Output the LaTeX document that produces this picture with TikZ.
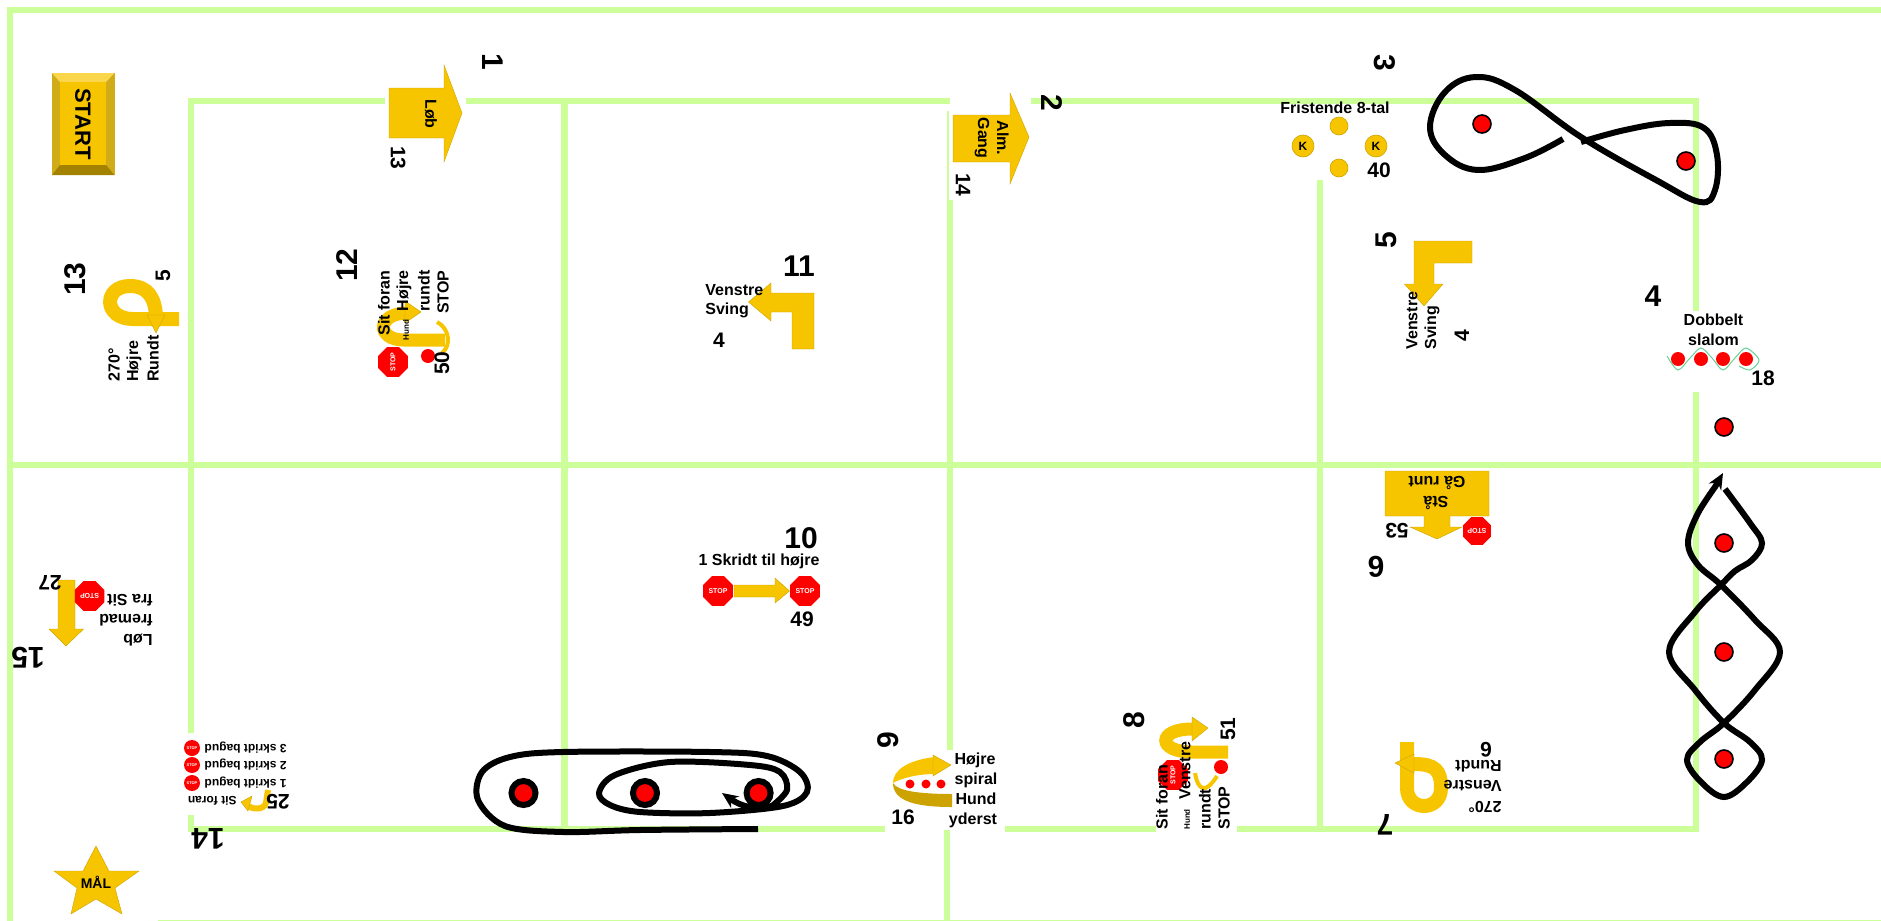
\documentclass[tikz,border=0pt]{standalone}
\usepackage{fontspec}
\setmainfont{Liberation Sans}
\usetikzlibrary{arrows.meta,shapes.geometric}
\definecolor{baneGreen}{HTML}{CCFF99}
\definecolor{gul}{HTML}{F6C500}
\definecolor{mørkgul}{HTML}{CCA300}
\begin{document}
\begin{tikzpicture}[
    x=0.5pt, y=-0.5pt,
    font=\bfseries\fontsize{8}{8}\selectfont,
    >=Stealth,
    bane/.style={draw=baneGreen, line width=3.2pt},
    gulpil/.style={fill=gul, draw=mørkgul, line width=.2pt},
    gulbaand/.style={draw=gul, line width=6.5pt},
    spor/.style={draw=black, line width=3pt, line cap=butt},
    nr/.style={inner sep=0pt, font=\bfseries\fontsize{15}{15}\selectfont},
    pt/.style={inner sep=0pt, font=\bfseries\fontsize{10.5}{10.5}\selectfont},
    txt/.style={inner sep=0pt},
    lille/.style={inner sep=0pt, font=\bfseries\fontsize{6}{6}\selectfont},
    kegle/.style={circle, fill=red, draw=black, line width=.8pt, minimum size=9pt, inner sep=0pt},
    ring/.style={circle, fill=red, draw=black, line width=3pt, minimum size=12pt, inner sep=0pt},
    rod/.style={circle, fill=red, minimum size=7pt, inner sep=0pt},
    stopskilt/.style={regular polygon, regular polygon sides=8, fill=red, minimum size=16pt, inner sep=0pt, text=white, font=\bfseries\fontsize{3.5}{3.5}\selectfont},
    kugle/.style={circle, fill=gul, draw=mørkgul, line width=.3pt, inner sep=0pt, minimum size=9pt, font=\bfseries\fontsize{6}{6}\selectfont}
]
\useasboundingbox (0,0) rectangle (1881,921);
% banen
\draw[bane] (1881,10) -- (10,10) -- (10,921);
\draw[bane] (10,465) -- (1881,465);
\draw[bane] (191,733) -- (191,101) -- (385,101);
\draw[bane] (466,101) -- (950,101);
\draw[bane] (1031,101) -- (1696,101) -- (1696,311);
\draw[bane] (564.5,101) -- (564.5,829);
\draw[bane] (950,200) -- (950,750);
\draw[baneGreen, line width=1pt] (948,111) -- (948,200);
\draw[bane] (947,830) -- (947,921);
\draw[bane] (1320,180) -- (1320,829);
\draw[bane] (1696,392) -- (1696,829) -- (1237,829);
\draw[bane] (1156,829) -- (1005,829);
\draw[bane] (885,829) -- (191,829) -- (191,815);
\draw[baneGreen, line width=1pt] (158,920.5) -- (1881,920.5);

% start
\fill[mørkgul!90!white] (52,73) rectangle (114.5,175);
\fill[gul!70!white] (52,73) -- (114.5,73) -- (106,82) -- (60,82) -- cycle;
\fill[mørkgul!80!black] (52,175) -- (114.5,175) -- (106,165) -- (60,165) -- cycle;
\fill[gul] (60,82) rectangle (106,165);
\node[txt, rotate=-90, font=\bfseries\fontsize{11}{11}\selectfont] (start) at (83,124) {START};

% 1 - 2
\fill[gulpil] (389,88) -- (444,88) -- (444,65) -- (462,113) -- (444,162) -- (444,138) -- (389,138) -- cycle;
\node[txt, rotate=-90] (loeb) at (431,114) {Løb};
\node[pt, rotate=-90] (p1) at (398,158) {13};
\node[nr, rotate=-90] (n1) at (493,62) {1};
\fill[gulpil] (953,115) -- (1010,115) -- (1010,93) -- (1029,137) -- (1010,184) -- (1010,162) -- (953,162) -- cycle;
\node[txt, rotate=-90] (alm) at (1003,138) {Alm.};
\node[txt, rotate=-90] (gang) at (982,138) {Gang};
\node[pt, rotate=-90] (p2) at (963,185) {14};
\node[nr, rotate=-90] (n2) at (1052,103) {2};

% 3
\node[txt] (frit) at (1335,108) {Fristende 8-tal};
\node[kugle] (k1) at (1339,126) {};
\node[kugle] (k2) at (1339,168) {};
\node[kugle, minimum size=11pt] (k3) at (1303,146) {K};
\node[kugle, minimum size=11pt] (k4) at (1376,146) {K};
\node[pt] (p3) at (1379,170) {40};
\node[nr, rotate=-90] (n3) at (1385,63) {3};
\draw[spor] plot[smooth, tension=.65] coordinates {(1563,139) (1525,158) (1478,170) (1445,155) (1430,127) (1445,92) (1476,77) (1515,90) (1581,137) (1656,180) (1700,202) (1715,190) (1717,155) (1704,128) (1670,123) (1625,130) (1581,142)};
\node[kegle] (a1) at (1482,124) {};
\node[kegle] (a2) at (1686,161) {};

% 4
\node[nr] (n4) at (1653,296) {4};
\node[txt] (dob) at (1713.5,320) {Dobbelt};
\node[txt] (sla) at (1713.5,340) {slalom};
\draw[teal!60!green!60, line width=.5pt] plot[smooth] coordinates {(1667,356) (1678,370) (1690,358) (1701,348) (1712,358) (1723,370) (1735,358) (1746,348) (1759,360) (1750,370) (1739,366)};
\foreach \px/\pname in {1678/b1,1701/b2,1723/b3,1746/b4} \node[rod] (\pname) at (\px,359) {};
\node[pt] (p4) at (1763,378) {18};
\node[kegle] (a3) at (1724,427) {};

% slalom
\draw[spor, -{Stealth[length=8pt,width=7pt]}] plot[smooth, tension=.6] coordinates {(1725,489) (1750,523) (1762,543) (1752,560) (1735,571) (1721,585) (1695,612) (1669,652) (1695,690) (1724,723) (1750,742) (1762,760) (1747,782) (1724,797) (1701,782) (1687,760) (1700,742) (1724,723) (1755,690) (1780,652) (1755,620) (1721,585) (1698,565) (1688,543) (1697,515) (1715,487)} -- (1723,473);
\node[kegle] (a4) at (1724,543) {};
\node[kegle] (a5) at (1724,652) {};
\node[kegle] (a6) at (1724,759) {};

% 5
\fill[gulpil] (1472,241) -- (1472,263) -- (1434,263) -- (1434,284) -- (1443,284) -- (1424,306) -- (1404.5,284) -- (1414,284) -- (1414,241) -- cycle;
\node[txt, rotate=90, anchor=west] (ven1) at (1412,350) {Venstre};
\node[txt, rotate=90, anchor=west] (svi1) at (1432,350) {Sving};
\node[pt, rotate=90] (p5) at (1462,336) {4};
\node[nr, rotate=90] (n5) at (1386,240) {5};

% 6
\fill[gulpil] (1385,471) -- (1489,471) -- (1489,516) -- (1450,516) -- (1450,527) -- (1462,527) -- (1437,539) -- (1410,527) -- (1424,527) -- (1424,516) -- (1385,516) -- cycle;
\node[txt, rotate=180] (sta) at (1436,503) {Stå};
\node[txt, rotate=180] (gaa) at (1437,483) {Gå runt};
\node[stopskilt, minimum size=15pt, rotate=180] (s6) at (1477,531) {STOP};
\node[pt, rotate=180] (p6) at (1397,531) {53};
\node[nr, rotate=180] (n6) at (1376,567) {6};

% 7
\draw[gulbaand, line width=7pt] (1407,742) -- (1407,788) .. controls (1407,812) and (1441,812) .. (1441,788) .. controls (1441,770) and (1435,764) .. (1414,764);
\fill[gulpil] (1414,754) -- (1395,763) -- (1414,773) -- cycle;
\node[txt, rotate=180, anchor=west] (dg7) at (1502,807) {270°};
\node[txt, rotate=180, anchor=west] (ven7) at (1502,786) {Venstre};
\node[txt, rotate=180, anchor=west] (run7) at (1502,766) {Rundt};
\node[pt, rotate=180] (p7) at (1486,750) {6};
\node[nr, rotate=180] (n7) at (1385,825) {7};

% 8
\draw[gulbaand] (1228,752) -- (1192,752) .. controls (1157,752) and (1157,729) .. (1192,729);
\fill[gulpil] (1192,717) -- (1208,728) -- (1192,741) -- cycle;
\draw[gul, line width=2pt] (1195,773) .. controls (1198,790) and (1205,795) .. (1217,776);
\node[stopskilt, rotate=90] (s8) at (1173,775) {STOP};
\node[rod] (r8) at (1221,767) {};
\node[txt, rotate=90, anchor=west] (sit8) at (1162,830) {Sit foran};
\node[txt, rotate=90, anchor=west] (ven8) at (1185,800) {Venstre};
\node[lille, rotate=90, anchor=west, font=\bfseries\fontsize{4}{4}\selectfont] (hun8) at (1187,830) {Hund};
\node[txt, rotate=90, anchor=west] (run8) at (1205,830) {rundt};
\node[txt, rotate=90, anchor=west] (stp8) at (1224,830) {STOP};
\node[pt, rotate=90] (p8) at (1228,729) {51};
\node[nr, rotate=90] (n8) at (1134,720) {8};

% 9
\fill[gul] (935,757) .. controls (908,760) and (893,770) .. (893,783) .. controls (900,779) and (915,774) .. (935,774) -- cycle;
\fill[mørkgul] (893,783) .. controls (897,791) and (920,794) .. (952,794) -- (952,807) .. controls (918,807) and (893,802) .. (893,783) -- cycle;
\fill[gulpil] (933,755) -- (951,765) -- (933,776) -- cycle;
\foreach \px/\pname in {910/c1,926/c2,941/c3} \node[rod, minimum size=4.5pt] (\pname) at (\px,784) {};
\node[txt] (hoj9) at (975,760) {Højre};
\node[txt] (spi9) at (976,780) {spiral};
\node[txt] (hun9) at (976,799) {Hund};
\node[txt] (yde9) at (973,820) {yderst};
\node[pt] (p9) at (903,817) {16};
\node[nr, rotate=90] (n9) at (888,740) {9};

% 10
\fill[gulpil] (734,585) -- (775,585) -- (775,578) -- (789.5,591) -- (775,603) -- (775,597) -- (734,597) -- cycle;
\node[stopskilt] (s10a) at (718,591) {STOP};
\node[stopskilt] (s10b) at (805,591) {STOP};
\node[txt] (skr) at (759,561) {1 Skridt til højre};
\node[pt] (p10) at (802,619) {49};
\node[nr] (n10) at (801,538) {10};

% 11
\fill[gulpil] (814,293) -- (814,349) -- (792,349) -- (792,312) -- (771,312) -- (771,321) -- (748.5,302) -- (771,283) -- (771,293) -- cycle;
\node[txt, anchor=west] (ven11) at (705,290) {Venstre};
\node[txt, anchor=west] (svi11) at (705,310) {Sving};
\node[pt] (p11) at (719,340) {4};
\node[nr] (n11) at (799,266) {11};

% 12
\draw[gulbaand] (445,340) -- (404,340) .. controls (376,340) and (376,313) .. (408,313);
\fill[gulpil] (405,301) -- (421,312) -- (405,323) -- cycle;
\draw[gul, line width=2pt] (437,322) .. controls (449,328) and (452,345) .. (442,353);
\node[stopskilt, rotate=90] (s12) at (393,362) {STOP};
\node[rod] (r12) at (428,356) {};
\node[txt, rotate=90, anchor=east] (sit12) at (384,270) {Sit foran};
\node[txt, rotate=90, anchor=east] (hoj12) at (404,270) {Højre};
\node[txt, rotate=90, anchor=east] (run12) at (424,270) {rundt};
\node[txt, rotate=90, anchor=east] (stp12) at (443,270) {STOP};
\node[lille, rotate=90, font=\bfseries\fontsize{4}{4}\selectfont] (hun12) at (406,330) {Hund};
\node[pt, rotate=90] (p12) at (442,363) {50};
\node[nr, rotate=90] (n12) at (347,265) {12};

% 13
\draw[gulbaand, line width=7pt] (179,319) -- (133,319) .. controls (103,319) and (103,286) .. (130,286) .. controls (148,286) and (155,298) .. (156,316);
\fill[gulpil] (147,315) -- (165,315) -- (156,333) -- cycle;
\node[txt, rotate=90, anchor=west] (dg13) at (114,382) {270°};
\node[txt, rotate=90, anchor=west] (hoj13) at (134,382) {Højre};
\node[txt, rotate=90, anchor=west] (run13) at (153,382) {Rundt};
\node[pt, rotate=90] (p13) at (163,276) {5};
\node[nr, rotate=90] (n13) at (75,279) {13};

% 14
\foreach \py/\ptxt/\pname in {748/3/d3,765/2/d2,783/1/d1} {
  \node[stopskilt, circle, minimum size=8pt, font=\bfseries\fontsize{2}{2}\selectfont] (s\pname) at (192,\py) {STOP};
  \node[lille, rotate=180, anchor=west] (\pname) at (287,\py) {\ptxt{} skridt bagud};
}
\node[lille, rotate=180, anchor=west] (sit14) at (237,801) {Sit foran};
\draw[gul, line width=3pt] (268,790) -- (266,803) .. controls (264,810) and (252,810) .. (247,805);
\fill[gulpil] (252,796) -- (241,802) -- (248,811) -- cycle;
\node[pt, rotate=180] (p14) at (278,802) {25};
\node[nr, rotate=180] (n14) at (208,839) {14};

% 15
\fill[gulpil] (58,580) -- (75,580) -- (75,629) -- (83.6,629) -- (66,646) -- (49,629) -- (58,629) -- cycle;
\node[stopskilt, rotate=180] (s15) at (89.6,596) {STOP};
\node[txt, rotate=180, anchor=west] (fra) at (153,600) {fra Sit};
\node[txt, rotate=180, anchor=west] (fre) at (153,620) {fremad};
\node[txt, rotate=180, anchor=west] (lob) at (153,640) {Løb};
\node[pt, rotate=180] (p15) at (50,583) {27};
\node[nr, rotate=180] (n15) at (28,658) {15};

% spiral
\draw[spor] plot[smooth, tension=.55] coordinates {(758,829) (640,830) (563,832) (505,826) (478,800) (482,772) (510,757) (563,752) (710,752) (767,756) (800,772) (807,792) (783,806) (710,813) (640,812) (610,805) (599,793) (615,775) (670,762) (750,765) (780,772) (787,790) (772,806)};
\draw[spor, -{Stealth[length=8pt,width=7pt]}] (772,806) .. controls (755,810) and (742,807) .. (722,793);
\node[ring] (d7a) at (523.5,793) {};
\node[ring] (d7b) at (645,793) {};
\node[ring] (d7c) at (758.6,793) {};

% maal
\fill[gulpil] (96,846) -- (109,871) -- (139,871) -- (115,888) -- (122,914) -- (96,899) -- (71,914) -- (77,888) -- (54,871) -- (83,871) -- cycle;
\node[txt, font=\bfseries\fontsize{7}{7}\selectfont] (maal) at (96,882) {MÅL};
\end{tikzpicture}
\end{document}
